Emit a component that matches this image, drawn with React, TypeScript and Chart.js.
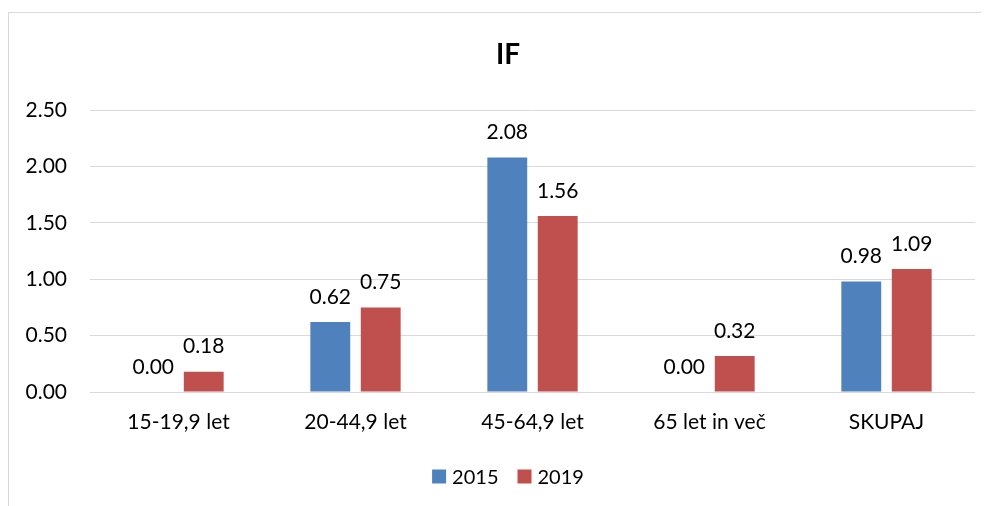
import React, { useEffect, useRef } from "react";
import { Chart, registerables } from "chart.js";

Chart.register(...registerables);

const categories = ["15-19,9 let", "20-44,9 let", "45-64,9 let", "65 let in več", "SKUPAJ"];
const values2015 = [0.0, 0.62, 2.08, 0.0, 0.98];
const values2019 = [0.18, 0.75, 1.56, 0.32, 1.09];
const seriesNames = ["2015", "2019"];
const seriesColors = ["#4F81BD", "#C0504D"];
const titleText = "IF";
const yTicks = { min: 0, max: 2.5, step: 0.5 };

const FONT = "Lato, 'Noto Sans', sans-serif";

const overlayPlugin = {
  id: "overlay",
  afterDatasetsDraw(chart: any) {
    const ctx = chart.ctx;
    ctx.save();
    // data labels
    ctx.font = `21px ${FONT}`;
    ctx.fillStyle = "#000";
    ctx.textAlign = "center";
    ctx.textBaseline = "middle";
    chart.data.datasets.forEach((ds: any, i: number) => {
      const meta = chart.getDatasetMeta(i);
      meta.data.forEach((bar: any, j: number) => {
        const v = ds.data[j] as number;
        ctx.fillText(v.toFixed(2), bar.x, bar.y - 25);
      });
    });
    // title
    const cx = 499;
    ctx.font = `bold 28px ${FONT}`;
    ctx.fillText(titleText, cx, 42);
    // legend
    ctx.font = `20px ${FONT}`;
    const box = 14, gapText = 6, gapItem = 19;
    const widths = seriesNames.map((n) => ctx.measureText(n).width);
    const total = widths.reduce((a, w) => a + box + gapText + w, 0) + gapItem * (seriesNames.length - 1);
    let x = cx - total / 2;
    const ly = 463.5;
    ctx.textAlign = "left";
    seriesNames.forEach((n, i) => {
      ctx.fillStyle = seriesColors[i];
      ctx.fillRect(x, ly - box / 2, box, box);
      ctx.fillStyle = "#000";
      ctx.fillText(n, x + box + gapText, ly + 1);
      x += box + gapText + widths[i] + gapItem;
    });
    ctx.restore();
  },
};

export default function App() {
  const ref = useRef<HTMLCanvasElement>(null);
  useEffect(() => {
    document.documentElement.style.overflow = "hidden";
    document.body.style.overflow = "hidden";
    const chart = new Chart(ref.current!, {
      type: "bar",
      data: {
        labels: categories,
        datasets: [
          { label: seriesNames[0], data: values2015, backgroundColor: seriesColors[0] },
          { label: seriesNames[1], data: values2019, backgroundColor: seriesColors[1] },
        ],
      },
      options: {
        responsive: false,
        animation: false,
        devicePixelRatio: 1,
        layout: { padding: { top: 97, left: 0, right: 32, bottom: 74 } },
        datasets: { bar: { categoryPercentage: 0.57, barPercentage: 0.79 } },
        plugins: { legend: { display: false }, title: { display: false }, tooltip: { enabled: false } },
        scales: {
          x: {
            grid: { display: false, drawTicks: false },
            border: { display: false },
            ticks: { color: "#000", font: { family: FONT, size: 21 }, padding: 18, maxRotation: 0 },
            afterFit: (s: any) => { s.height = 40; },
          },
          y: {
            min: yTicks.min,
            max: yTicks.max,
            grid: { color: "#d9d9d9", lineWidth: 1, drawTicks: false },
            border: { display: false },
            ticks: {
              stepSize: yTicks.step,
              color: "#000",
              font: { family: FONT, size: 21 },
              padding: 23,
              callback: (v: any) => Number(v).toFixed(2),
            },
            afterFit: (s: any) => { s.width = 81; },
          },
        },
      },
      plugins: [overlayPlugin],
    });
    return () => chart.destroy();
  }, []);
  return (
    <div
      style={{
        marginTop: 4,
        width: 980,
        height: 493,
        borderLeft: "1px solid #d9d9d9",
        borderTop: "1px solid #d9d9d9",
        overflow: "hidden",
        background: "#fff",
      }}
    >
      <canvas ref={ref} width={998} height={493} style={{ display: "block", width: 998, height: 493 }} />
    </div>
  );
}
